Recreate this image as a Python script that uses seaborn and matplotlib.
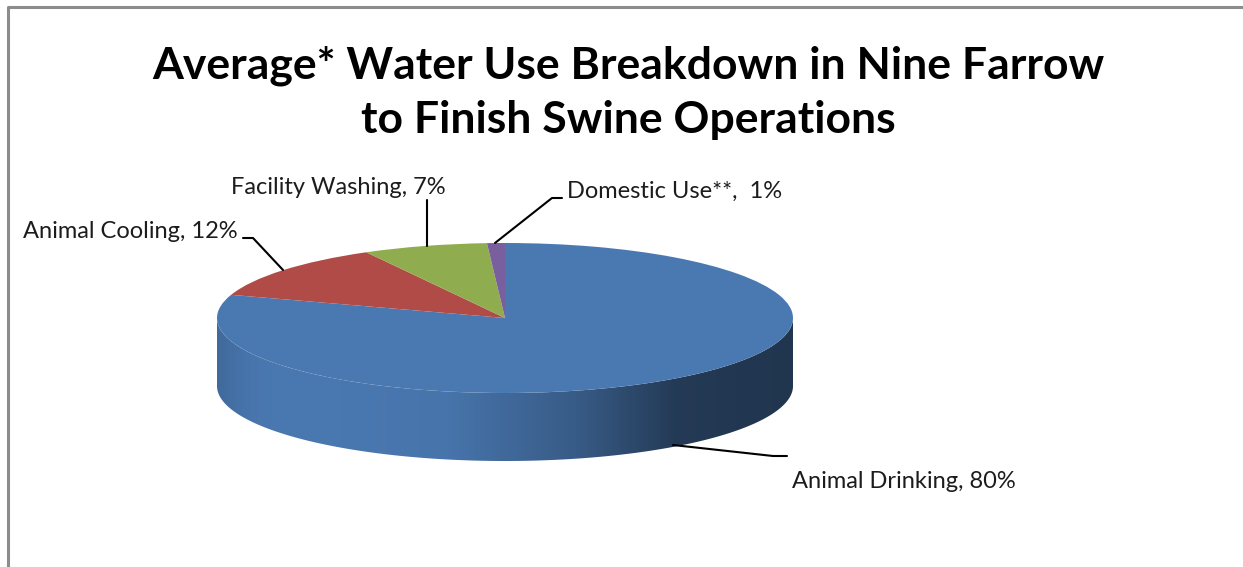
import numpy as np
import matplotlib
matplotlib.use("Agg")
import matplotlib.pyplot as plt
import seaborn as sns
from matplotlib.patches import Polygon
from matplotlib.colors import LinearSegmentedColormap, to_rgb
from matplotlib.lines import Line2D

# ---------------- data ----------------
categories = ["Animal Drinking", "Animal Cooling", "Facility Washing", "Domestic Use**"]
values = [80, 12, 7, 1]
label_sep = [", ", ", ", ", ", ",  "]
colors = ["#4a79b2", "#b04b48", "#8fad4f", "#7a5f9f"]
title = "Average* Water Use Breakdown in Nine Farrow\nto Finish Swine Operations"

sns.set_theme(style="white")
plt.rcParams["font.family"] = ["Lato", "DejaVu Sans"]

W, H = 1243, 567
fig = plt.figure(figsize=(W / 100, H / 100), dpi=100)
fig.patch.set_facecolor("white")

# geometry (pixels)
cx_px, cy_px = 505, 318
rx_px, ry_px = 288, 75
depth_px = 68
k = rx_px / ry_px  # vertical stretch of data units

ax = fig.add_axes([0, 0, 1, 1])
ycen = (H - cy_px) * k
R = rx_px

wedges, _ = ax.pie(values, colors=colors, startangle=90, counterclock=False,
                   center=(cx_px, ycen), radius=R, frame=True,
                   wedgeprops=dict(linewidth=0, zorder=5))
ax.set_aspect("auto")
ax.set_xlim(0, W)
ax.set_ylim(0, H * k)
ax.axis("off")

# side faces of the wedges visible in the front half (180..360 deg)
depth = depth_px * k
side_cmap_stops = [(0.0, 0.88), (0.06, 0.97), (0.12, 1.0), (0.4, 0.96), (0.62, 0.76),
                   (0.8, 0.48), (1.0, 0.44)]
for w, col in zip(wedges, colors):
    t1, t2 = w.theta1 % 360, w.theta2 % 360
    if t2 < t1:
        segs = [(t1, 360), (0, t2)]
    else:
        segs = [(t1, t2)]
    for a, b in segs:
        lo, hi = max(a, 180), min(b, 360)
        if hi <= lo:
            continue
        th = np.radians(np.linspace(lo, hi, 200))
        xs = cx_px + R * np.cos(th)
        ys = ycen + R * np.sin(th)
        poly = np.vstack([np.column_stack([xs, ys]),
                          np.column_stack([xs[::-1], ys[::-1] - depth])])
        patch = Polygon(poly, closed=True, facecolor="none", edgecolor="none", zorder=3)
        ax.add_patch(patch)
        base = np.array(to_rgb(col))
        cm = LinearSegmentedColormap.from_list(
            "side", [(p, tuple(np.clip(base * f, 0, 1))) for p, f in side_cmap_stops])
        grad = np.linspace(0, 1, 512).reshape(1, -1)
        im = ax.imshow(grad, cmap=cm, aspect="auto", zorder=3,
                       extent=[cx_px - R, cx_px + R, ycen - R - depth, ycen + R],
                       interpolation="bilinear")
        im.set_clip_path(patch)
ax.set_xlim(0, W)
ax.set_ylim(0, H * k)

# ---------------- text ----------------
def fx(x):
    return x / W

def fy(y):
    return 1 - y / H

fig.text(fx(628), fy(93), title, ha="center", va="center", fontsize=32,
         fontweight="bold", color="black", linespacing=1.42)

labels = [f"{c}{s}{v}%" for c, s, v in zip(categories, label_sep, values)]
label_pos = [(792, 481, "left"), (238, 231, "right"), (338, 187, "center"), (567, 191, "left")]
for lab, (x, y, ha) in zip(labels, label_pos):
    fig.text(fx(x), fy(y), lab, ha=ha, va="center", fontsize=17, color="#1c1c1c")

leaders = [
    [(673, 445), (773, 456), (787, 456)],
    [(243, 238), (253, 238), (283, 270)],
    [(427, 200), (427, 246)],
    [(562, 198), (552, 198), (495, 243)],
]
for pts in leaders:
    xs = [fx(p[0]) for p in pts]
    ys = [fy(p[1]) for p in pts]
    fig.add_artist(Line2D(xs, ys, color="black", lw=1.5, zorder=10))

# chart border (left and top visible)
fig.add_artist(Line2D([fx(7.5), fx(7.5), fx(1243)], [fy(567), fy(6.5), fy(6.5)],
                      color="#8c8c8c", lw=2.2))

fig.savefig("out.png", dpi=100, facecolor="white")
